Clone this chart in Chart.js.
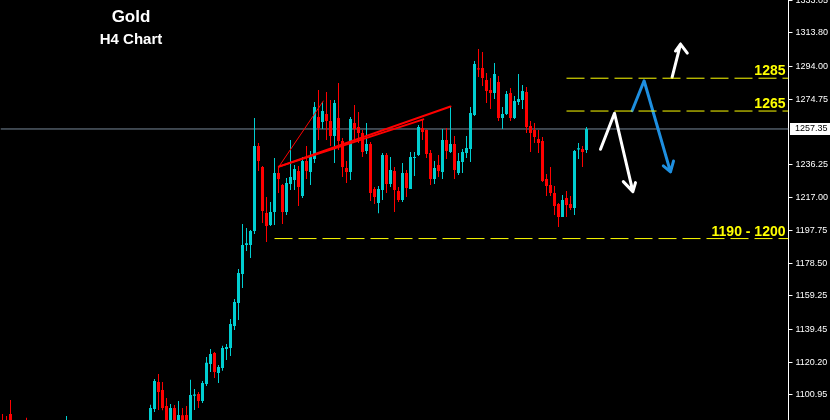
<!DOCTYPE html>
<html>
<head>
<meta charset="utf-8">
<title>Gold H4 Chart</title>
<script src="https://cdn.jsdelivr.net/npm/chart.js@4.4.1/dist/chart.umd.min.js"></script>
<style>
body{margin:0;background:#000;}
#chart{display:block;}
</style>
</head>
<body>
<canvas id="chart" width="830" height="420"></canvas>
<script>
//H4 candles, oldest first (the first ones sit below the visible price range)
const opens = [1084.0,1083.0,1089.8,1080.5,1075.0,1078.5,1082.0,1079.5,1073.0,1069.5,
1072.0,1077.0,1070.5,1065.0,1069.0,1076.0,1078.0,1084.0,1077.0,1071.0,
1074.0,1072.5,1066.0,1068.0,1071.5,1076.5,1073.0,1068.5,1070.0,1074.5,
1078.0,1075.0,1077.5,1080.0,1076.5,1079.0,1081.5,1080.0,1092.7,1108.6,
1103.9,1094.5,1078.0,1093.3,1080.0,1089.0,1089.2,1082.0,1100.5,1101.5,
1097.4,1107.4,1119.2,1125.6,1113.9,1116.8,1128.0,1128.6,1141.5,1155.0,
1172.1,1189.1,1189.1,1197.4,1247.4,1235.0,1208.0,1200.9,1208.5,1231.5,
1224.4,1208.5,1225.0,1227.4,1232.6,1217.9,1238.5,1232.1,1239.7,1264.4,
1261.5,1266.2,1262.1,1253.2,1263.8,1250.3,1234.4,1232.1,1260.9,1258.5,
1255.0,1244.4,1248.5,1222.1,1213.8,1221.5,1242.1,1225.0,1232.6,1220.9,
1215.6,1231.5,1222.1,1240.3,1242.1,1257.9,1256.8,1243.2,1227.9,1236.2,
1232.1,1250.9,1243.8,1248.5,1231.5,1237.9,1243.2,1245.6,1265.6,1293.0,
1293.2,1286.2,1280.3,1278.5,1285.0,1263.8,1266.2,1278.5,1263.8,1273.2,
1274.4,1279.1,1259.1,1256.8,1251.5,1250.3,1227.9,1224.4,1219.7,1213.2,
1205.6,1216.8,1213.2,1210.9,1245.3,1245.6,1245.0]
const highs = [1089.8,1088.6,1098.0,1084.0,1081.0,1083.5,1087.5,1082.0,1078.0,1075.0,
1079.0,1080.0,1074.0,1071.0,1078.0,1082.0,1088.6,1085.5,1080.0,1076.0,
1079.0,1075.0,1070.0,1074.0,1078.0,1081.0,1077.0,1072.0,1076.0,1080.5,
1082.0,1079.0,1083.0,1084.5,1081.0,1084.0,1085.0,1095.1,1110.3,1113.3,
1108.6,1099.2,1095.6,1095.0,1097.4,1093.3,1094.5,1109.8,1104.5,1102.7,
1109.2,1123.3,1128.0,1126.2,1118.6,1129.8,1130.9,1145.6,1157.4,1175.0,
1201.5,1199.1,1198.0,1263.8,1249.1,1235.6,1217.4,1214.4,1240.3,1235.2,
1225.0,1228.5,1250.9,1236.2,1235.6,1240.9,1247.4,1244.4,1273.2,1280.3,
1273.2,1279.1,1274.4,1274.4,1284.4,1252.0,1238.5,1264.4,1271.5,1267.3,
1256.8,1260.9,1249.7,1223.2,1223.8,1243.2,1243.2,1240.9,1235.0,1223.2,
1237.3,1233.2,1243.8,1243.8,1259.7,1263.2,1257.0,1245.0,1238.5,1242.1,
1257.3,1257.9,1270.9,1253.2,1243.2,1245.6,1253.2,1270.3,1297.3,1304.4,
1302.6,1290.3,1287.3,1296.2,1288.5,1270.3,1279.7,1281.5,1276.8,1289.7,
1283.2,1282.0,1262.1,1260.9,1256.8,1252.6,1230.9,1235.0,1223.8,1213.8,
1218.5,1220.9,1217.9,1245.0,1249.1,1247.4,1258.5]
const lows = [1075.0,1076.0,1077.0,1072.0,1070.0,1074.0,1077.0,1071.0,1066.0,1064.0,
1070.0,1068.0,1062.0,1061.0,1067.0,1072.0,1076.0,1075.0,1069.0,1066.0,
1070.0,1063.0,1060.0,1065.0,1069.0,1071.0,1066.0,1063.0,1068.0,1072.0,
1073.0,1070.0,1074.0,1075.0,1072.0,1076.0,1077.0,1076.0,1090.9,1092.1,
1092.0,1078.0,1075.0,1078.0,1078.0,1080.0,1078.0,1078.0,1092.1,1093.3,
1096.2,1106.2,1114.5,1110.9,1108.0,1115.1,1121.5,1123.9,1139.2,1145.0,
1163.9,1185.6,1181.5,1195.6,1232.6,1202.1,1190.9,1200.3,1200.9,1219.7,
1201.5,1206.8,1221.5,1221.5,1212.1,1216.8,1227.9,1224.4,1237.3,1250.9,
1257.3,1250.9,1247.4,1237.3,1245.0,1229.1,1225.6,1227.4,1250.9,1249.1,
1240.9,1242.6,1215.0,1213.2,1207.8,1215.6,1219.7,1223.2,1208.5,1214.4,
1214.4,1217.4,1222.1,1229.7,1241.5,1250.9,1240.3,1224.4,1225.0,1229.1,
1227.9,1239.7,1243.2,1227.9,1230.3,1231.5,1240.3,1237.9,1265.0,1287.9,
1282.6,1272.6,1269.1,1275.0,1262.1,1257.3,1265.6,1262.1,1263.2,1271.5,
1269.1,1255.0,1243.8,1249.1,1243.2,1226.2,1217.9,1217.9,1206.8,1199.7,
1205.6,1205.6,1209.7,1206.8,1239.7,1235.0,1243.2]
const closes = [1078.0,1079.0,1080.5,1075.0,1078.5,1080.0,1079.5,1073.0,1069.5,1072.0,
1077.0,1070.5,1065.0,1069.0,1076.0,1074.0,1084.0,1077.0,1071.0,1074.0,
1072.5,1066.0,1068.0,1071.5,1076.5,1073.0,1068.5,1070.0,1074.5,1078.0,
1075.0,1077.5,1080.0,1076.5,1079.0,1081.5,1080.0,1093.3,1109.2,1102.7,
1093.3,1082.0,1093.3,1082.0,1089.2,1084.0,1082.0,1100.9,1101.2,1097.4,
1108.0,1119.8,1125.0,1114.5,1117.4,1128.6,1129.2,1142.7,1155.6,1172.7,
1189.1,1190.2,1197.4,1247.4,1238.5,1209.1,1200.3,1208.5,1231.5,1227.9,
1208.5,1225.6,1229.1,1233.8,1223.2,1238.5,1232.6,1240.9,1270.3,1257.9,
1267.9,1262.1,1253.2,1272.6,1250.3,1235.0,1232.1,1263.2,1257.3,1255.0,
1243.8,1248.5,1219.7,1217.4,1222.1,1242.1,1225.0,1233.2,1221.5,1215.6,
1231.5,1222.7,1240.9,1240.6,1258.5,1255.6,1242.7,1227.9,1234.4,1232.6,
1250.9,1244.4,1248.5,1233.2,1238.5,1243.8,1246.2,1266.8,1295.6,1292.3,
1287.3,1279.7,1278.5,1289.7,1263.8,1266.2,1277.9,1263.8,1273.8,1275.0,
1279.7,1258.5,1255.0,1252.6,1249.1,1226.8,1223.8,1219.7,1212.1,1205.6,
1215.6,1212.7,1210.9,1244.4,1246.0,1243.8,1257.35]
//empty bars on the right side of the chart
const emptyBars = 50
//price axis
const priceTicks = [1333.05,1313.80,1294.00,1274.75,1236.25,1217.00,1197.75,1178.50,1159.25,1139.45,1120.20,1100.95]
const lastPrice = 1257.35
const titleText = "Gold"
const subTitle = "H4 Chart"
//support / resistance levels (price, label, first bar)
const levelPrices = [1287.2, 1267.9, 1192.9]
const levelNames = ["1285", "1265", "1190 - 1200"]
const levelFrom = [141, 141, 68]
//trend lines drawn from the high of bar 69 (bar index, price)
const trendStart = {x: 69.1, y: 1235.2}
const trendEnds = [{x: 80.2, y: 1273.8}, {x: 112, y: 1270.6}, {x: 105.2, y: 1263.0}]
//hand drawn arrows (bar index, price), last points are the arrow heads
const whiteArrowDown = [{x:149.5,y:1245.4},{x:153.0,y:1266.6},{x:157.6,y:1220.5},{x:155.2,y:1226.4},{x:157.6,y:1220.5},{x:158.25,y:1225.8}]
const blueArrow = [{x:157.4,y:1268.1},{x:160.4,y:1285.7},{x:167.0,y:1232.1},{x:165.2,y:1235.6},{x:167.0,y:1232.1},{x:167.75,y:1238.5}]
const whiteArrowUp = [{x:167.4,y:1287.7},{x:169.5,y:1307.3},{x:168.25,y:1303.2},{x:169.5,y:1307.3},{x:171.2,y:1302.0}]

const upColor = "#00ced1"
const downColor = "#ff0000"
const totalBars = opens.length + emptyBars
let barLabels = []
for(let i = 0; i < totalBars; i++){
    barLabels.push(i)
}
let candleColors = opens.map((o, i) => closes[i] >= o ? upColor : downColor)
let wickData = lows.map((l, i) => [l, highs[i]])
let bodyData = opens.map((o, i) => [o, closes[i]])

//draws the titles, the level names and the current price box
const chartText = {
    id: "chartText",
    beforeDraw(chart){
        let ctx = chart.ctx
        ctx.save()
        ctx.fillStyle = "#000"
        ctx.fillRect(0, 0, chart.width, chart.height)
        ctx.restore()
    },
    afterDraw(chart){
        let ctx = chart.ctx
        let yScale = chart.scales.y
        let area = chart.chartArea
        ctx.save()
        ctx.fillStyle = "#fff"
        ctx.textAlign = "center"
        ctx.textBaseline = "middle"
        ctx.font = "bold 17px 'Liberation Sans', Arial, sans-serif"
        ctx.fillText(titleText, 131, 17)
        ctx.font = "bold 15px 'Liberation Sans', Arial, sans-serif"
        ctx.fillText(subTitle, 131, 40)

        ctx.fillStyle = "#ffff00"
        ctx.font = "bold 14px 'Liberation Sans', Arial, sans-serif"
        ctx.textAlign = "right"
        ctx.textBaseline = "alphabetic"
        levelPrices.forEach((p, i) => {
            ctx.fillText(levelNames[i], area.right - 3, yScale.getPixelForValue(p) - 3)
        })

        let py = Math.round(yScale.getPixelForValue(lastPrice))
        ctx.fillStyle = "#fff"
        ctx.fillRect(area.right + 1.5, py - 6, 42, 12)
        ctx.fillStyle = "#000"
        ctx.font = "9px 'Liberation Sans', Arial, sans-serif"
        ctx.textAlign = "left"
        ctx.textBaseline = "middle"
        ctx.fillText(lastPrice.toFixed(2), area.right + 6.5, py)
        ctx.restore()
    }
}

function lineSet(points, color, width, dash){
    return {
        type: "line",
        xAxisID: "x2",
        data: points,
        borderColor: color,
        borderWidth: width,
        borderDash: dash || [],
        borderCapStyle: "round",
        borderJoinStyle: "round",
        pointRadius: 0,
        tension: 0,
        order: 1
    }
}

let datasets = [
    {
        data: wickData,
        backgroundColor: candleColors,
        barThickness: 1,
        grouped: false,
        inflateAmount: 0,
        order: 5
    },
    {
        data: bodyData,
        backgroundColor: candleColors,
        barThickness: 3,
        minBarLength: 1,
        grouped: false,
        inflateAmount: 0,
        order: 4
    }
]
//current price line behind the candles
let priceLine = lineSet([{x: -0.5, y: lastPrice}, {x: totalBars - 0.5, y: lastPrice}], "#778899", 1)
priceLine.order = 10
priceLine.borderCapStyle = "butt"
datasets.push(priceLine)
levelPrices.forEach((p, i) => {
    let level = lineSet([{x: levelFrom[i], y: p}, {x: totalBars - 0.5, y: p}], "#ffff00", 1, [18, 6])
    level.borderCapStyle = "butt"
    datasets.push(level)
})
trendEnds.forEach((end, i) => {
    datasets.push(lineSet([trendStart, end], "#ff0000", i == 0 ? 1 : 2))
})
datasets.push(lineSet(whiteArrowDown, "#ffffff", 3))
datasets.push(lineSet(blueArrow, "#1e8fe0", 3))
datasets.push(lineSet(whiteArrowUp, "#ffffff", 3))

let goldChart = new Chart(document.getElementById("chart"), {
    type: "bar",
    data: {
        labels: barLabels,
        datasets: datasets
    },
    options: {
        responsive: false,
        animation: false,
        layout: {padding: {left: 0.5, right: 0, top: 0, bottom: 0}},
        plugins: {
            legend: {display: false},
            tooltip: {enabled: false}
        },
        scales: {
            x: {display: false, offset: true},
            x2: {type: "linear", display: false, offset: false, min: -0.5, max: totalBars - 0.5},
            y: {
                position: "right",
                min: 1086.2,
                max: 1333.2,
                afterFit(scale){
                    //no room kept for half labels, the plot runs edge to edge
                    scale.width = 41.5
                    scale.paddingTop = 0
                    scale.paddingBottom = 0
                },
                afterBuildTicks(scale){
                    scale.ticks = priceTicks.map(v => ({value: v}))
                },
                ticks: {
                    color: "#fff",
                    padding: 3,
                    autoSkip: false,
                    font: {family: "'Liberation Sans', Arial, sans-serif", size: 9},
                    callback: v => Number(v).toFixed(2)
                },
                grid: {drawOnChartArea: false, color: "#fff", tickLength: 4},
                border: {color: "#fff"}
            }
        }
    },
    plugins: [chartText]
})
</script>
</body>
</html>
